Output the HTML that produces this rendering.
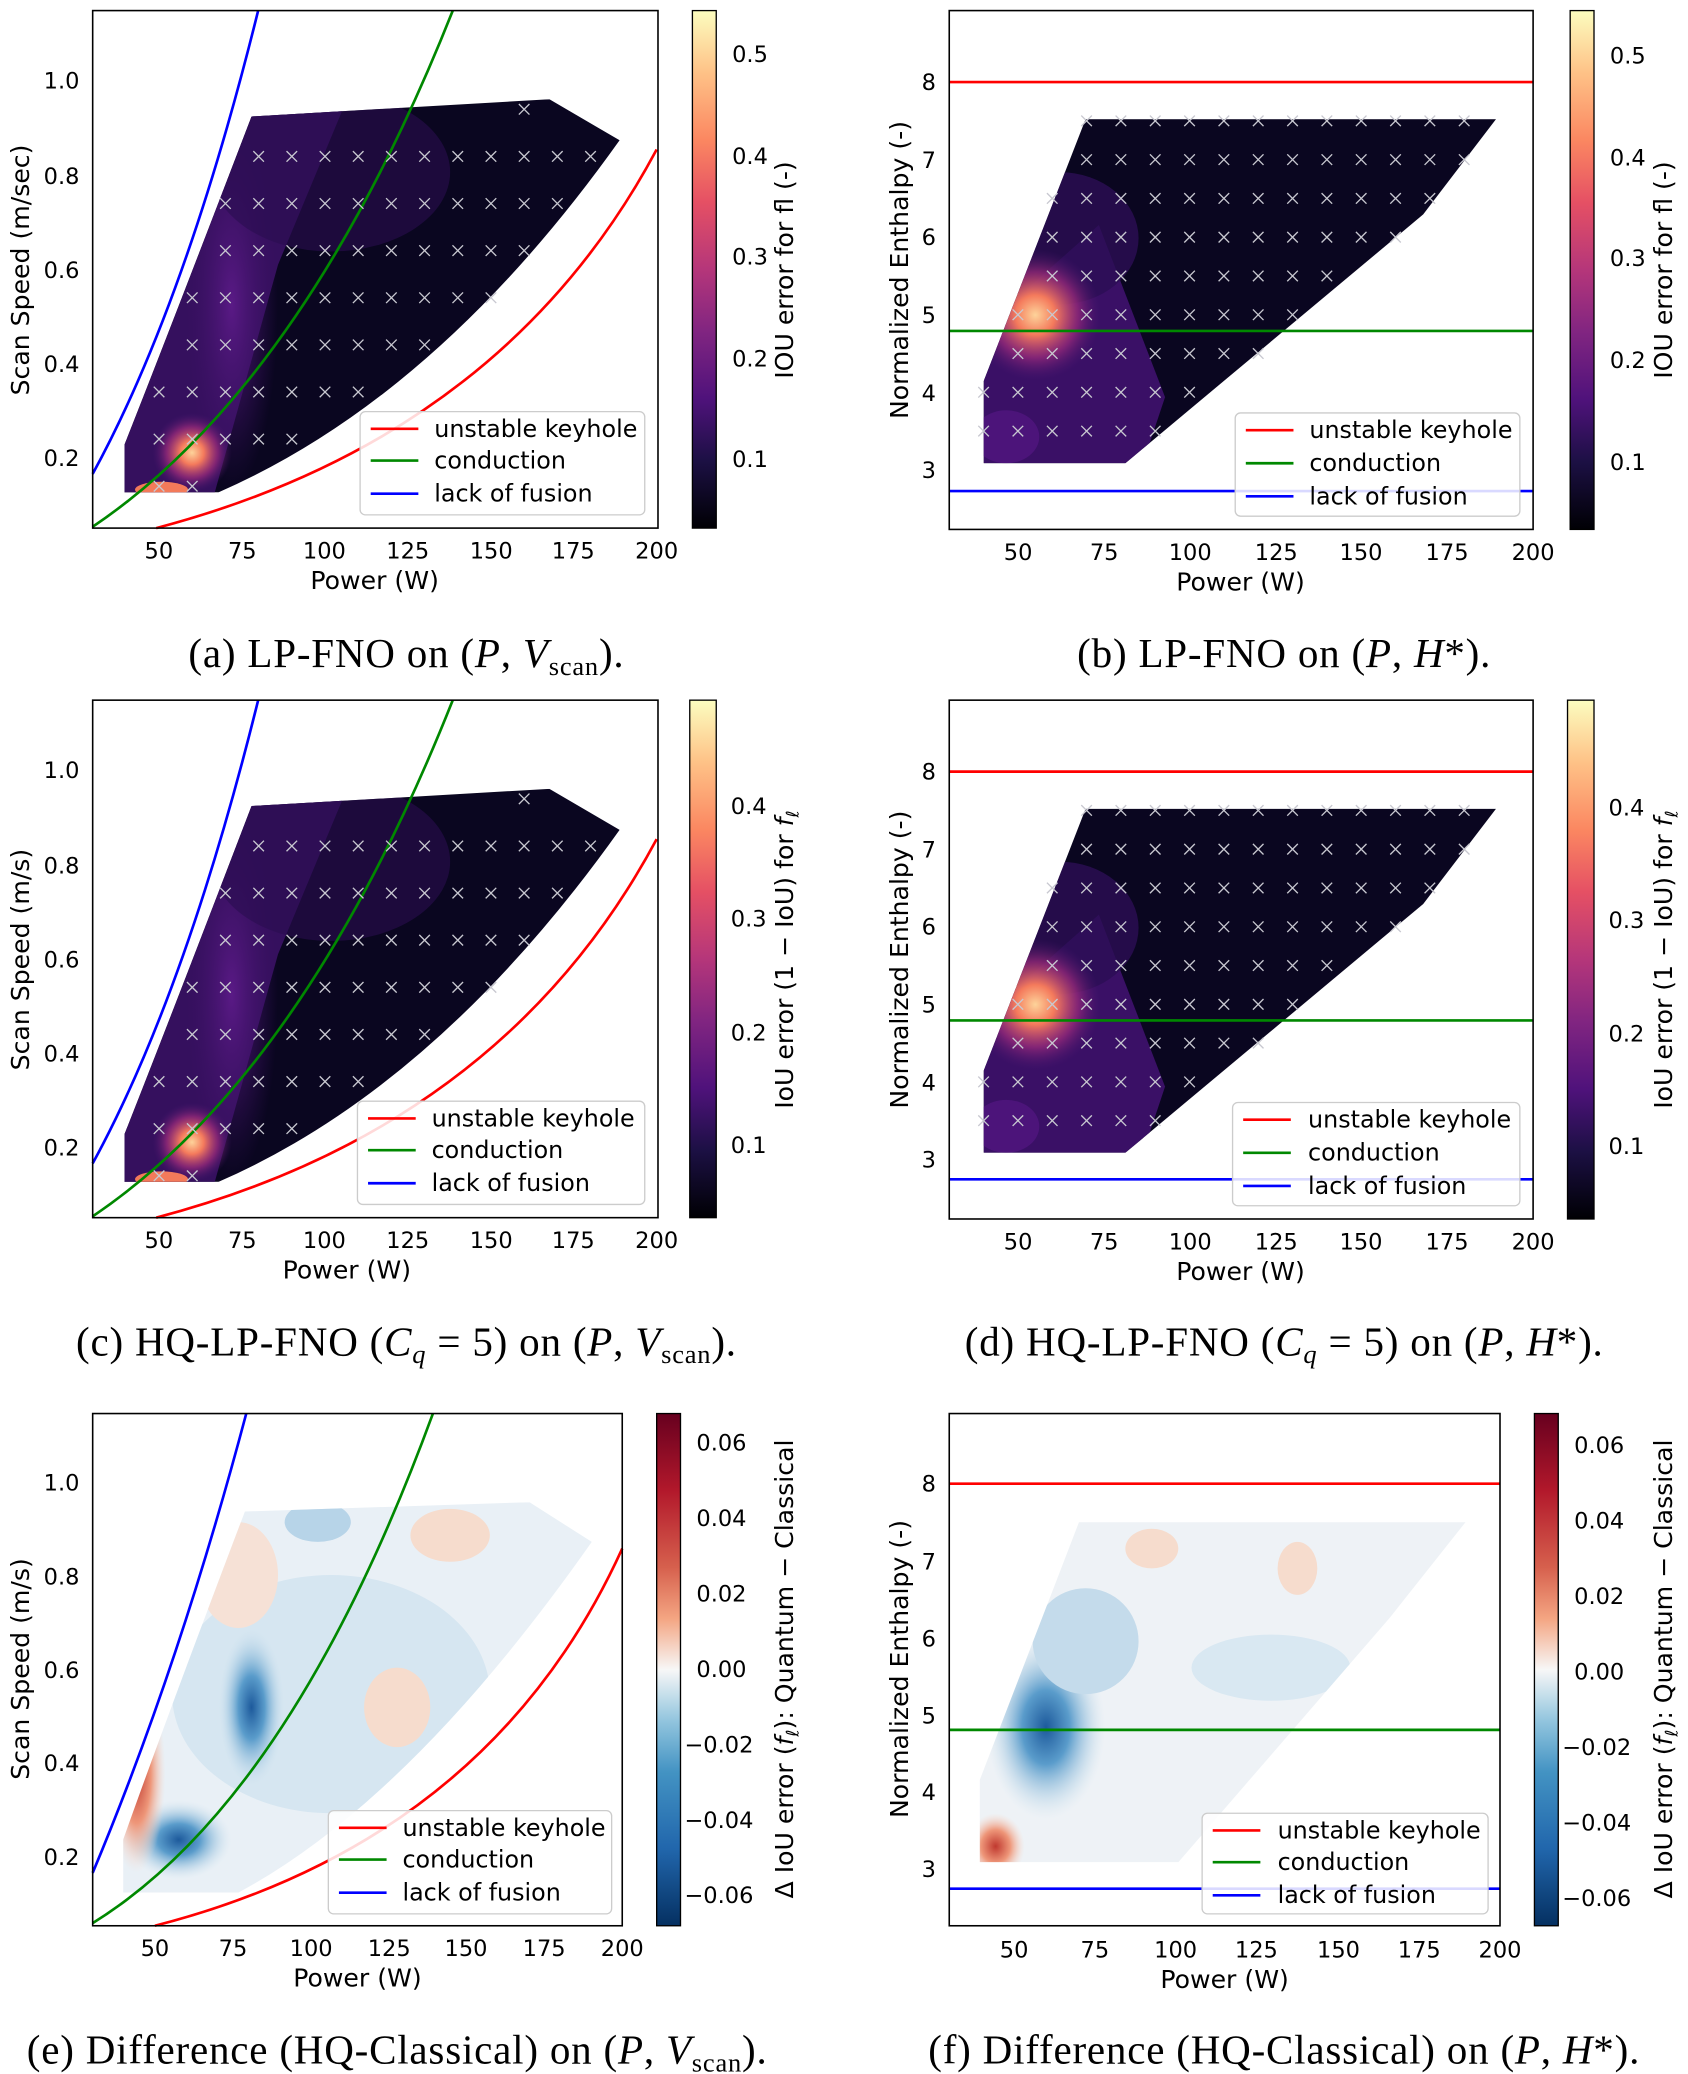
<!DOCTYPE html>
<html><head><meta charset="utf-8"><style>
html,body{margin:0;padding:0;background:#fff}
svg{display:block}
text{font-family:"DejaVu Sans","Liberation Sans",sans-serif;fill:#000}
.t{font-size:17px}
.l{font-size:19px}
.cap{font-family:"Liberation Serif",serif;font-size:31px;letter-spacing:0.6px}
.lg{font-size:18px}
</style></head><body>
<svg id="s" width="1688" height="2074" viewBox="0 0 1275 1567" preserveAspectRatio="none" xmlns="http://www.w3.org/2000/svg">
<defs>
<linearGradient id="magma" x1="0" y1="1" x2="0" y2="0">
<stop offset="0" stop-color="#000004"/><stop offset="0.13" stop-color="#1c1044"/><stop offset="0.25" stop-color="#4f127b"/><stop offset="0.38" stop-color="#812581"/><stop offset="0.5" stop-color="#b5367a"/><stop offset="0.63" stop-color="#e55064"/><stop offset="0.75" stop-color="#fb8761"/><stop offset="0.88" stop-color="#fec287"/><stop offset="1" stop-color="#fcfdbf"/></linearGradient>
<linearGradient id="rdbu" x1="0" y1="1" x2="0" y2="0">
<stop offset="0" stop-color="#053061"/><stop offset="0.15" stop-color="#2166ac"/><stop offset="0.3" stop-color="#4393c3"/><stop offset="0.4" stop-color="#92c5de"/><stop offset="0.5" stop-color="#f7f7f7"/><stop offset="0.6" stop-color="#f4a582"/><stop offset="0.7" stop-color="#d6604d"/><stop offset="0.85" stop-color="#b2182b"/><stop offset="1" stop-color="#67001f"/></linearGradient>
<radialGradient id="hot"><stop offset="0" stop-color="#fdd39a"/><stop offset="0.3" stop-color="#f47a5c"/><stop offset="0.65" stop-color="#a02c7c" stop-opacity="0.7"/><stop offset="1" stop-color="#4a1670" stop-opacity="0"/></radialGradient>
<radialGradient id="purp"><stop offset="0" stop-color="#5a1a86"/><stop offset="1" stop-color="#3a1062" stop-opacity="0"/></radialGradient>
<radialGradient id="blu"><stop offset="0" stop-color="#1d5a9c"/><stop offset="0.4" stop-color="#5a9ccb"/><stop offset="1" stop-color="#cfe3ef" stop-opacity="0"/></radialGradient>
<radialGradient id="red"><stop offset="0" stop-color="#c0392f"/><stop offset="0.5" stop-color="#ee9679"/><stop offset="1" stop-color="#f7d7c8" stop-opacity="0"/></radialGradient>
<clipPath id="ca"><path d="M94,372 L94,336 Q128,250 190,88 L415,75 L468,106 Q330,300 165,372 Z"/></clipPath>
<clipPath id="cb"><polygon points="743,350 743,288 820,90 1130,90 1075,162 850,350"/></clipPath>
<clipPath id="ce"><path d="M93,1430 L93,1390 Q125,1300 185,1142 L400,1135 L447,1165 Q310,1360 180,1430 Z"/></clipPath>
<clipPath id="cf"><polygon points="740,1407 740,1345 815,1150 1107,1150 1050,1222 890,1407"/></clipPath>
<g id="hmA">
 <g clip-path="url(#ca)">
  <rect x="80" y="60" width="400" height="320" fill="#0a0620"/>
  <polygon points="94,380 94,300 190,80 260,80 210,200 160,380" fill="#35105e"/>
  <ellipse cx="175" cy="230" rx="35" ry="140" fill="url(#purp)"/>
  <ellipse cx="250" cy="130" rx="90" ry="60" fill="#2a0e50" opacity="0.6"/>
  <circle cx="145" cy="342" r="30" fill="url(#hot)"/>
  <ellipse cx="122" cy="370" rx="20" ry="6" fill="#f37a5a"/>
 </g>
</g>
<g id="hmB">
 <g clip-path="url(#cb)">
  <rect x="730" y="80" width="420" height="280" fill="#0a0620"/>
  <polygon points="740,360 740,250 830,170 880,300 860,360" fill="#3a1066"/>
  <ellipse cx="800" cy="180" rx="60" ry="50" fill="#2c0e55" opacity="0.8"/>
  <circle cx="782" cy="238" r="50" fill="url(#hot)"/>
  <ellipse cx="760" cy="330" rx="25" ry="20" fill="#4c147a"/>
 </g>
</g>
</defs>

<!-- Panel A -->
<use href="#hmA"/>
<path d="M70,358 Q140,230 195,8" stroke="#00f" stroke-width="2" fill="none"/>
<path d="M70,398 Q230,290 342,8" stroke="#080" stroke-width="2" fill="none"/>
<path d="M118,399 Q380,330 496,113" stroke="#f00" stroke-width="2" fill="none"/>
<g id="crA"></g>
<rect x="70" y="8" width="427" height="391" fill="none" stroke="#000" stroke-width="1.2"/>
<rect x="272" y="311" width="215" height="78" rx="4" fill="#fff" fill-opacity="0.85" stroke="#ccc"/>
<line x1="280" x2="316" y1="324" y2="324" stroke="#f00" stroke-width="2"/><text x="328" y="330" class="lg">unstable keyhole</text>
<line x1="280" x2="316" y1="348" y2="348" stroke="#080" stroke-width="2"/><text x="328" y="354" class="lg">conduction</text>
<line x1="280" x2="316" y1="373" y2="373" stroke="#00f" stroke-width="2"/><text x="328" y="379" class="lg">lack of fusion</text>
<g class="t" text-anchor="middle">
<text x="120" y="422">50</text><text x="183" y="422">75</text><text x="245" y="422">100</text><text x="308" y="422">125</text><text x="371" y="422">150</text><text x="433" y="422">175</text><text x="496" y="422">200</text></g>
<g class="t" text-anchor="end"><text x="60" y="67">1.0</text><text x="60" y="139">0.8</text><text x="60" y="210">0.6</text><text x="60" y="281">0.4</text><text x="60" y="352">0.2</text></g>
<text x="283" y="445" class="l" text-anchor="middle">Power (W)</text>
<text transform="translate(22,204) rotate(-90)" class="l" text-anchor="middle">Scan Speed (m/sec)</text>
<rect x="523" y="8" width="18" height="391" fill="url(#magma)"/>
<rect x="523" y="8" width="18" height="391" fill="none" stroke="#000"/>
<g class="t"><text x="553" y="47">0.5</text><text x="553" y="124">0.4</text><text x="553" y="200">0.3</text><text x="553" y="277">0.2</text><text x="553" y="353">0.1</text></g>
<text transform="translate(599,204) rotate(-90)" class="l" text-anchor="middle">IOU error for fl (-)</text>
<text x="307" y="504" class="cap" text-anchor="middle">(a) LP-FNO on (<tspan font-style="italic">P</tspan>, <tspan font-style="italic">V</tspan><tspan font-size="20" dy="6">scan</tspan><tspan dy="-6">).</tspan></text>

<!-- Panel B -->
<use href="#hmB"/>
<line x1="717" x2="1158" y1="62" y2="62" stroke="#f00" stroke-width="2"/>
<line x1="717" x2="1158" y1="250" y2="250" stroke="#080" stroke-width="2"/>
<line x1="717" x2="1158" y1="371" y2="371" stroke="#00f" stroke-width="2"/>
<g id="crB"></g>
<rect x="717" y="8" width="441" height="392" fill="none" stroke="#000" stroke-width="1.2"/>
<rect x="933" y="312" width="215" height="78" rx="4" fill="#fff" fill-opacity="0.85" stroke="#ccc"/>
<line x1="941" x2="977" y1="325" y2="325" stroke="#f00" stroke-width="2"/><text x="989" y="331" class="lg">unstable keyhole</text>
<line x1="941" x2="977" y1="350" y2="350" stroke="#080" stroke-width="2"/><text x="989" y="356" class="lg">conduction</text>
<line x1="941" x2="977" y1="375" y2="375" stroke="#00f" stroke-width="2"/><text x="989" y="381" class="lg">lack of fusion</text>
<g class="t" text-anchor="middle"><text x="769" y="423">50</text><text x="834" y="423">75</text><text x="899" y="423">100</text><text x="964" y="423">125</text><text x="1028" y="423">150</text><text x="1093" y="423">175</text><text x="1158" y="423">200</text></g>
<g class="t" text-anchor="end"><text x="707" y="68">8</text><text x="707" y="127">7</text><text x="707" y="185">6</text><text x="707" y="244">5</text><text x="707" y="303">4</text><text x="707" y="361">3</text></g>
<text x="937" y="446" class="l" text-anchor="middle">Power (W)</text>
<text transform="translate(686,204) rotate(-90)" class="l" text-anchor="middle">Normalized Enthalpy (-)</text>
<rect x="1186" y="8" width="18" height="392" fill="url(#magma)"/><rect x="1186" y="8" width="18" height="392" fill="none" stroke="#000"/>
<g class="t"><text x="1216" y="48">0.5</text><text x="1216" y="125">0.4</text><text x="1216" y="201">0.3</text><text x="1216" y="278">0.2</text><text x="1216" y="355">0.1</text></g>
<text transform="translate(1263,204) rotate(-90)" class="l" text-anchor="middle">IOU error for fl (-)</text>
<text x="970" y="504" class="cap" text-anchor="middle">(b) LP-FNO on (<tspan font-style="italic">P</tspan>, <tspan font-style="italic">H</tspan>*).</text>

<!-- Panel C -->
<g transform="translate(0,521)">
<use href="#hmA"/>
<path d="M70,358 Q140,230 195,8" stroke="#00f" stroke-width="2" fill="none"/>
<path d="M70,398 Q230,290 342,8" stroke="#080" stroke-width="2" fill="none"/>
<path d="M118,399 Q380,330 496,113" stroke="#f00" stroke-width="2" fill="none"/>
<g id="crC"></g>
<rect x="70" y="8" width="427" height="391" fill="none" stroke="#000" stroke-width="1.2"/>
<rect x="270" y="311" width="217" height="78" rx="4" fill="#fff" fill-opacity="0.85" stroke="#ccc"/>
<line x1="278" x2="314" y1="324" y2="324" stroke="#f00" stroke-width="2"/><text x="326" y="330" class="lg">unstable keyhole</text>
<line x1="278" x2="314" y1="348" y2="348" stroke="#080" stroke-width="2"/><text x="326" y="354" class="lg">conduction</text>
<line x1="278" x2="314" y1="373" y2="373" stroke="#00f" stroke-width="2"/><text x="326" y="379" class="lg">lack of fusion</text>
<g class="t" text-anchor="middle"><text x="120" y="422">50</text><text x="183" y="422">75</text><text x="245" y="422">100</text><text x="308" y="422">125</text><text x="371" y="422">150</text><text x="433" y="422">175</text><text x="496" y="422">200</text></g>
<g class="t" text-anchor="end"><text x="60" y="67">1.0</text><text x="60" y="139">0.8</text><text x="60" y="210">0.6</text><text x="60" y="281">0.4</text><text x="60" y="352">0.2</text></g>
<text x="262" y="445" class="l" text-anchor="middle">Power (W)</text>
<text transform="translate(22,204) rotate(-90)" class="l" text-anchor="middle">Scan Speed (m/s)</text>
<rect x="521" y="8" width="20" height="391" fill="url(#magma)"/><rect x="521" y="8" width="20" height="391" fill="none" stroke="#000"/>
<g class="t"><text x="552" y="94">0.4</text><text x="552" y="179">0.3</text><text x="552" y="265">0.2</text><text x="552" y="350">0.1</text></g>
<text transform="translate(599,204) rotate(-90)" class="l" text-anchor="middle">IoU error (1 − IoU) for <tspan font-style="italic">f</tspan><tspan font-size="13" dy="4">ℓ</tspan></text>
<text x="307" y="503" class="cap" text-anchor="middle">(c) HQ-LP-FNO (<tspan font-style="italic">C</tspan><tspan font-size="20" dy="6" font-style="italic">q</tspan><tspan dy="-6"> = 5) on (</tspan><tspan font-style="italic">P</tspan>, <tspan font-style="italic">V</tspan><tspan font-size="20" dy="6">scan</tspan><tspan dy="-6">).</tspan></text>
</g>

<!-- Panel D -->
<g transform="translate(0,521)">
<use href="#hmB"/>
<line x1="717" x2="1158" y1="62" y2="62" stroke="#f00" stroke-width="2"/>
<line x1="717" x2="1158" y1="250" y2="250" stroke="#080" stroke-width="2"/>
<line x1="717" x2="1158" y1="370" y2="370" stroke="#00f" stroke-width="2"/>
<g id="crD"></g>
<rect x="717" y="8" width="441" height="392" fill="none" stroke="#000" stroke-width="1.2"/>
<rect x="931" y="312" width="217" height="78" rx="4" fill="#fff" fill-opacity="0.85" stroke="#ccc"/>
<line x1="939" x2="975" y1="325" y2="325" stroke="#f00" stroke-width="2"/><text x="988" y="331" class="lg">unstable keyhole</text>
<line x1="939" x2="975" y1="350" y2="350" stroke="#080" stroke-width="2"/><text x="988" y="356" class="lg">conduction</text>
<line x1="939" x2="975" y1="375" y2="375" stroke="#00f" stroke-width="2"/><text x="988" y="381" class="lg">lack of fusion</text>
<g class="t" text-anchor="middle"><text x="769" y="423">50</text><text x="834" y="423">75</text><text x="899" y="423">100</text><text x="964" y="423">125</text><text x="1028" y="423">150</text><text x="1093" y="423">175</text><text x="1158" y="423">200</text></g>
<g class="t" text-anchor="end"><text x="707" y="68">8</text><text x="707" y="127">7</text><text x="707" y="185">6</text><text x="707" y="244">5</text><text x="707" y="303">4</text><text x="707" y="361">3</text></g>
<text x="937" y="446" class="l" text-anchor="middle">Power (W)</text>
<text transform="translate(686,204) rotate(-90)" class="l" text-anchor="middle">Normalized Enthalpy (-)</text>
<rect x="1184" y="8" width="20" height="392" fill="url(#magma)"/><rect x="1184" y="8" width="20" height="392" fill="none" stroke="#000"/>
<g class="t"><text x="1215" y="95">0.4</text><text x="1215" y="180">0.3</text><text x="1215" y="266">0.2</text><text x="1215" y="351">0.1</text></g>
<text transform="translate(1263,204) rotate(-90)" class="l" text-anchor="middle">IoU error (1 − IoU) for <tspan font-style="italic">f</tspan><tspan font-size="13" dy="4">ℓ</tspan></text>
<text x="970" y="503" class="cap" text-anchor="middle">(d) HQ-LP-FNO (<tspan font-style="italic">C</tspan><tspan font-size="20" dy="6" font-style="italic">q</tspan><tspan dy="-6"> = 5) on (</tspan><tspan font-style="italic">P</tspan>, <tspan font-style="italic">H</tspan>*).</text>
</g>

<!-- Panel E -->
<g clip-path="url(#ce)">
 <rect x="80" y="1120" width="400" height="320" fill="#e9f0f6"/>
 <ellipse cx="250" cy="1280" rx="120" ry="90" fill="#d6e6f1"/>
 <ellipse cx="190" cy="1290" rx="25" ry="60" fill="url(#blu)"/>
 <ellipse cx="135" cy="1390" rx="40" ry="30" fill="url(#blu)"/>
 <ellipse cx="103" cy="1340" rx="22" ry="75" fill="url(#red)"/>
 <ellipse cx="340" cy="1160" rx="30" ry="20" fill="#f6dccd"/>
 <ellipse cx="300" cy="1290" rx="25" ry="30" fill="#f6dccd"/>
 <ellipse cx="240" cy="1150" rx="25" ry="15" fill="#b7d4e8"/>
 <ellipse cx="180" cy="1190" rx="30" ry="40" fill="#f6e1d6"/>
</g>
<path d="M70,1415 Q135,1260 186,1068" stroke="#00f" stroke-width="2" fill="none"/>
<path d="M70,1453 Q220,1360 327,1068" stroke="#080" stroke-width="2" fill="none"/>
<path d="M117,1455 Q370,1390 470,1170" stroke="#f00" stroke-width="2" fill="none"/>
<rect x="70" y="1068" width="400" height="387" fill="none" stroke="#000" stroke-width="1.2"/>
<rect x="248" y="1368" width="214" height="78" rx="4" fill="#fff" fill-opacity="0.85" stroke="#ccc"/>
<line x1="256" x2="292" y1="1381" y2="1381" stroke="#f00" stroke-width="2"/><text x="304" y="1387" class="lg">unstable keyhole</text>
<line x1="256" x2="292" y1="1405" y2="1405" stroke="#080" stroke-width="2"/><text x="304" y="1411" class="lg">conduction</text>
<line x1="256" x2="292" y1="1430" y2="1430" stroke="#00f" stroke-width="2"/><text x="304" y="1436" class="lg">lack of fusion</text>
<g class="t" text-anchor="middle"><text x="117" y="1478">50</text><text x="176" y="1478">75</text><text x="235" y="1478">100</text><text x="294" y="1478">125</text><text x="352" y="1478">150</text><text x="411" y="1478">175</text><text x="470" y="1478">200</text></g>
<g class="t" text-anchor="end"><text x="60" y="1126">1.0</text><text x="60" y="1197">0.8</text><text x="60" y="1268">0.6</text><text x="60" y="1338">0.4</text><text x="60" y="1409">0.2</text></g>
<text x="270" y="1501" class="l" text-anchor="middle">Power (W)</text>
<text transform="translate(22,1261) rotate(-90)" class="l" text-anchor="middle">Scan Speed (m/s)</text>
<rect x="496" y="1068" width="18" height="387" fill="url(#rdbu)"/><rect x="496" y="1068" width="18" height="387" fill="none" stroke="#000"/>
<g class="t"><text x="526" y="1096">0.06</text><text x="526" y="1153">0.04</text><text x="526" y="1210">0.02</text><text x="526" y="1267">0.00</text><text x="517" y="1324">−0.02</text><text x="517" y="1381">−0.04</text><text x="517" y="1438">−0.06</text></g>
<text transform="translate(599,1261) rotate(-90)" class="l" text-anchor="middle">Δ IoU error (<tspan font-style="italic">f</tspan><tspan font-size="13" dy="4">ℓ</tspan><tspan dy="-4">): Quantum − Classical</tspan></text>
<text x="300" y="1559" class="cap" text-anchor="middle">(e) Difference (HQ-Classical) on (<tspan font-style="italic">P</tspan>, <tspan font-style="italic">V</tspan><tspan font-size="20" dy="6">scan</tspan><tspan dy="-6">).</tspan></text>

<!-- Panel F -->
<g clip-path="url(#cf)">
 <rect x="730" y="1140" width="400" height="280" fill="#eef2f6"/>
 <ellipse cx="790" cy="1305" rx="45" ry="70" fill="url(#blu)"/>
 <ellipse cx="820" cy="1240" rx="40" ry="40" fill="#c4dbeb"/>
 <ellipse cx="752" cy="1395" rx="22" ry="25" fill="url(#red)"/>
 <ellipse cx="870" cy="1170" rx="20" ry="15" fill="#f6dccd"/>
 <ellipse cx="980" cy="1185" rx="15" ry="20" fill="#f6dccd"/>
 <ellipse cx="960" cy="1260" rx="60" ry="25" fill="#d9e8f2"/>
</g>
<line x1="717" x2="1133" y1="1121" y2="1121" stroke="#f00" stroke-width="2"/>
<line x1="717" x2="1133" y1="1307" y2="1307" stroke="#080" stroke-width="2"/>
<line x1="717" x2="1133" y1="1427" y2="1427" stroke="#00f" stroke-width="2"/>
<rect x="717" y="1068" width="416" height="387" fill="none" stroke="#000" stroke-width="1.2"/>
<rect x="908" y="1370" width="216" height="76" rx="4" fill="#fff" fill-opacity="0.85" stroke="#ccc"/>
<line x1="916" x2="952" y1="1383" y2="1383" stroke="#f00" stroke-width="2"/><text x="965" y="1389" class="lg">unstable keyhole</text>
<line x1="916" x2="952" y1="1407" y2="1407" stroke="#080" stroke-width="2"/><text x="965" y="1413" class="lg">conduction</text>
<line x1="916" x2="952" y1="1432" y2="1432" stroke="#00f" stroke-width="2"/><text x="965" y="1438" class="lg">lack of fusion</text>
<g class="t" text-anchor="middle"><text x="766" y="1479">50</text><text x="827" y="1479">75</text><text x="888" y="1479">100</text><text x="949" y="1479">125</text><text x="1011" y="1479">150</text><text x="1072" y="1479">175</text><text x="1133" y="1479">200</text></g>
<g class="t" text-anchor="end"><text x="707" y="1127">8</text><text x="707" y="1186">7</text><text x="707" y="1244">6</text><text x="707" y="1302">5</text><text x="707" y="1360">4</text><text x="707" y="1418">3</text></g>
<text x="925" y="1502" class="l" text-anchor="middle">Power (W)</text>
<text transform="translate(686,1261) rotate(-90)" class="l" text-anchor="middle">Normalized Enthalpy (-)</text>
<rect x="1159" y="1068" width="18" height="387" fill="url(#rdbu)"/><rect x="1159" y="1068" width="18" height="387" fill="none" stroke="#000"/>
<g class="t"><text x="1189" y="1098">0.06</text><text x="1189" y="1155">0.04</text><text x="1189" y="1212">0.02</text><text x="1189" y="1269">0.00</text><text x="1180" y="1326">−0.02</text><text x="1180" y="1383">−0.04</text><text x="1180" y="1440">−0.06</text></g>
<text transform="translate(1263,1261) rotate(-90)" class="l" text-anchor="middle">Δ IoU error (<tspan font-style="italic">f</tspan><tspan font-size="13" dy="4">ℓ</tspan><tspan dy="-4">): Quantum − Classical</tspan></text>
<text x="970" y="1559" class="cap" text-anchor="middle">(f) Difference (HQ-Classical) on (<tspan font-style="italic">P</tspan>, <tspan font-style="italic">H</tspan>*).</text>
</svg>
<script>
(function(){
var NS="http://www.w3.org/2000/svg";
function inside(p,poly){var x=p[0],y=p[1],c=false;for(var i=0,j=poly.length-1;i<poly.length;j=i++){var xi=poly[i][0],yi=poly[i][1],xj=poly[j][0],yj=poly[j][1];if(((yi>y)!=(yj>y))&&(x<(xj-xi)*(y-yi)/(yj-yi)+xi))c=!c;}return c;}
function cross(g,x,y){var p=document.createElementNS(NS,"path");p.setAttribute("d","M"+(x-4)+","+(y-4)+"L"+(x+4)+","+(y+4)+"M"+(x-4)+","+(y+4)+"L"+(x+4)+","+(y-4));p.setAttribute("stroke","#c8c8d0");p.setAttribute("stroke-width","1");g.appendChild(p);}
var polyA=[[98,368],[98,340],[125,260],[150,190],[192,94],[412,80],[462,108],[420,170],[370,230],[320,272],[260,315],[200,350],[168,368]];
function A(id){var g=document.getElementById(id);for(var P=40;P<=190;P+=10){var x=70+(P-30)*2.507;for(var r=0;r<9;r++){var V=0.14+r*0.1+((P*7)%5)*0.012;var y=346-(V-0.2)*356;if(inside([x,y],polyA))cross(g,x,y);}}}
function B(id){var g=document.getElementById(id);for(var P=40;P<=190;P+=10){var x=717+(P-30)*2.593;for(var H=3.5;H<=7.5;H+=0.5){var y=62+(8-H)*58.6;if(inside([x,y],[[740,354],[740,285],[818,86],[1134,86],[1078,165],[852,354]]))cross(g,x,y);}}}
A("crA");A("crC");B("crB");B("crD");
})();
</script>
</body></html>
